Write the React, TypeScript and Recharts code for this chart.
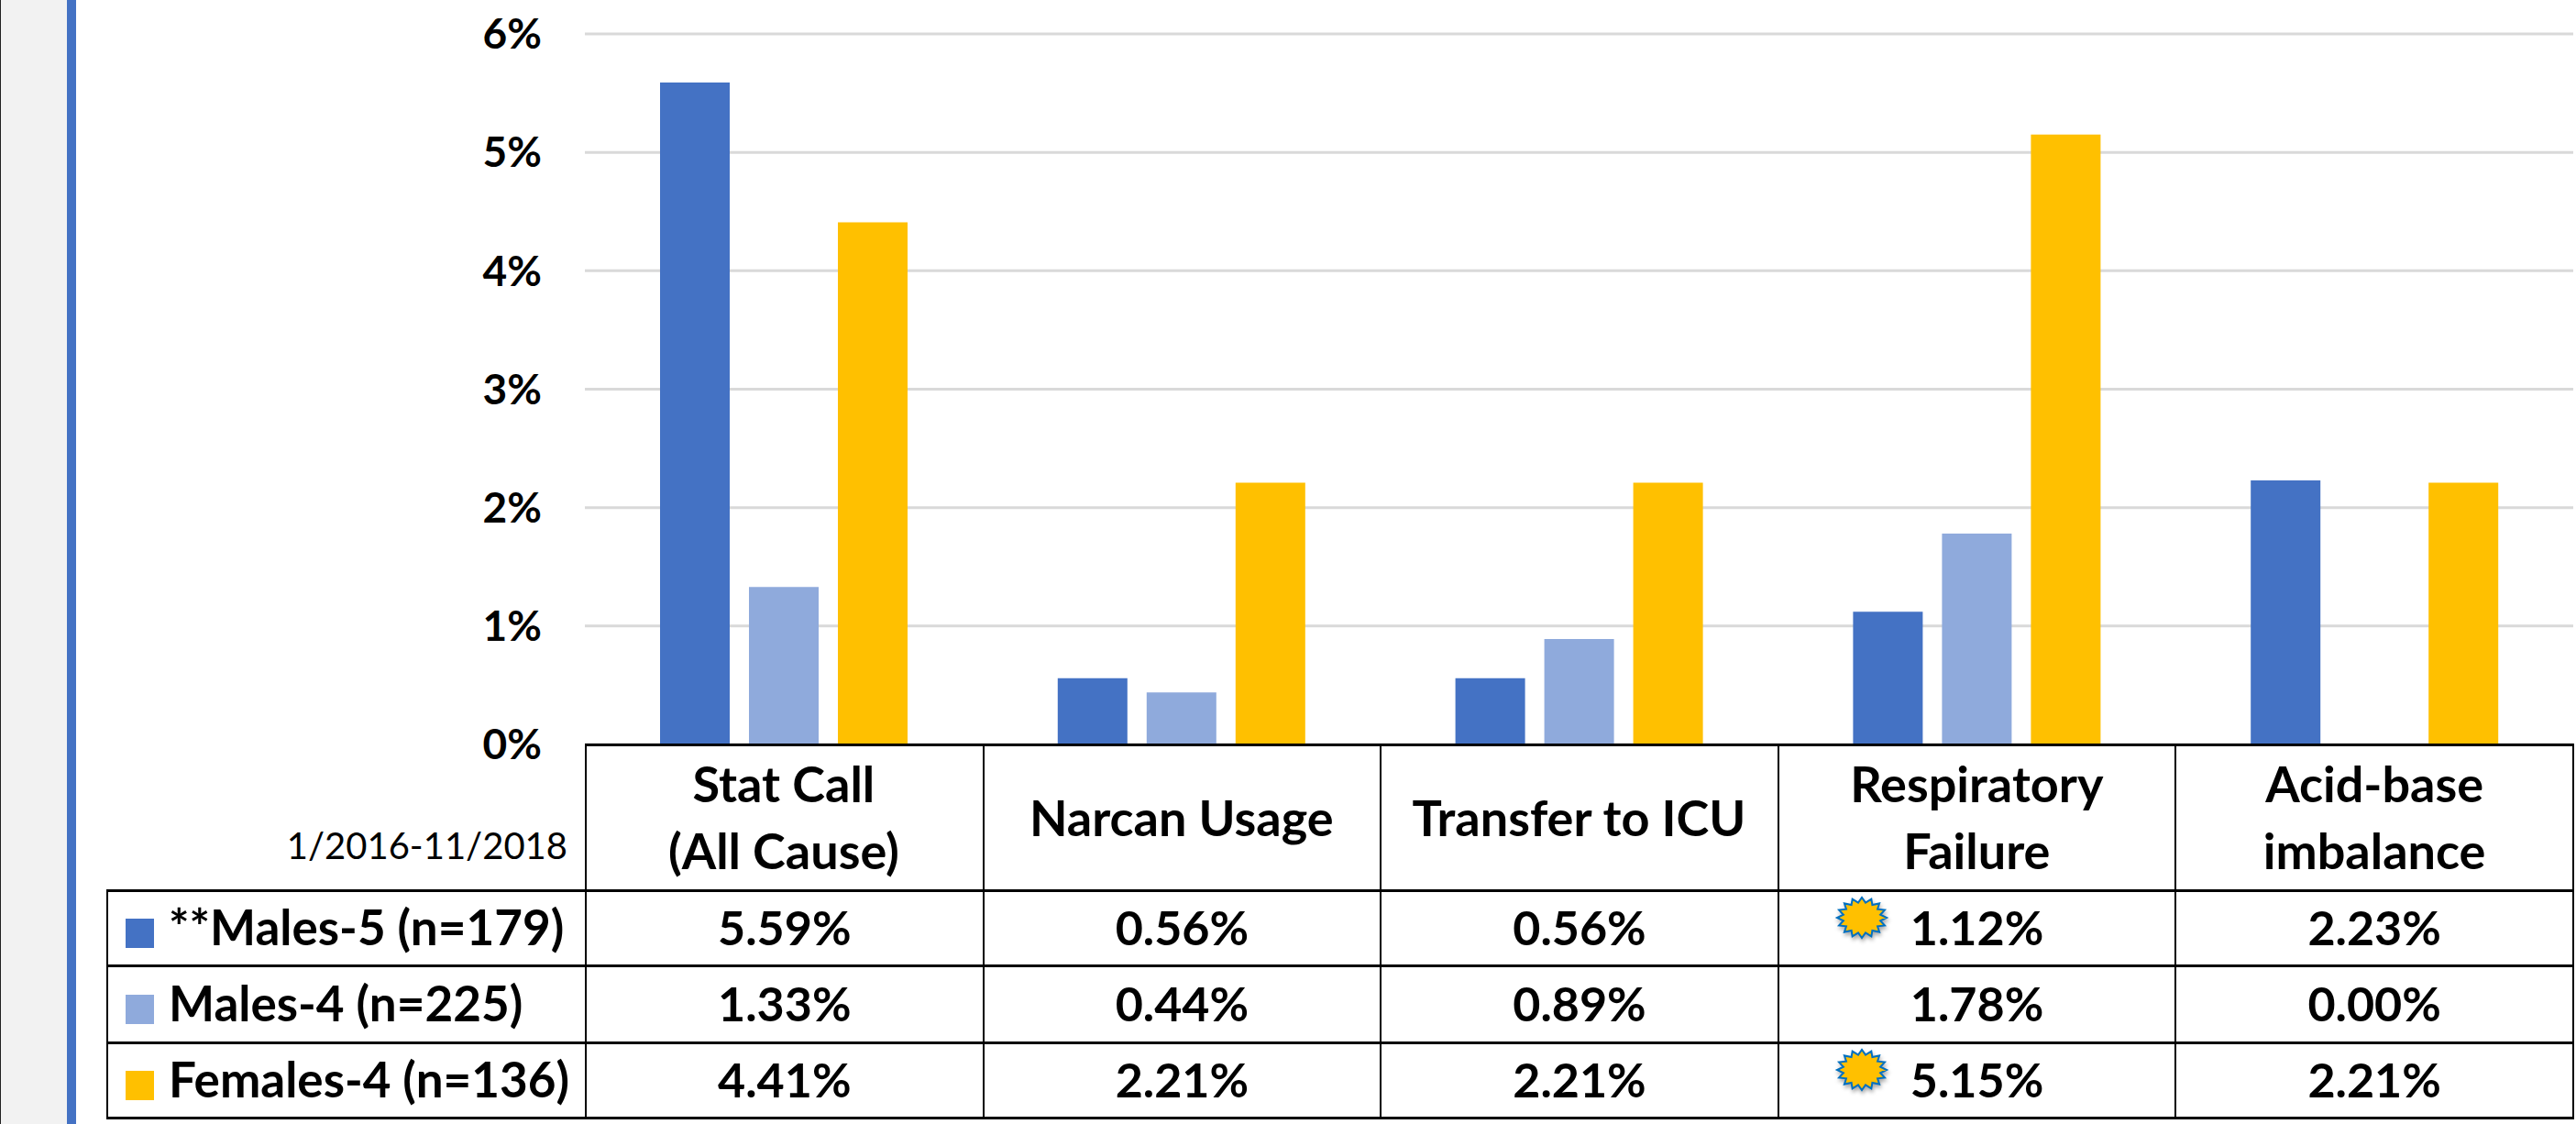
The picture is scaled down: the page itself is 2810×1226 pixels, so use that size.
import { Bar, BarChart, CartesianGrid, XAxis, YAxis } from "recharts";

const categories = ["Stat Call\n(All Cause)", "Narcan Usage", "Transfer to ICU", "Respiratory\nFailure", "Acid-base\nimbalance"];
const males5 = [5.59, 0.56, 0.56, 1.12, 2.23];
const males4 = [1.33, 0.44, 0.89, 1.78, 0];
const females4 = [4.41, 2.21, 2.21, 5.15, 2.21];
const yTicks = [0, 1, 2, 3, 4, 5, 6];

const series = [
  { key: "males5", label: "**Males-5 (n=179)", color: "#4472C4", values: males5, rowHeight: 82, burst: 3 },
  { key: "males4", label: "Males-4 (n=225)", color: "#8FAADC", values: males4, rowHeight: 84, burst: -1 },
  { key: "females4", label: "Females-4 (n=136)", color: "#FFC000", values: females4, rowHeight: 82, burst: 3 },
];

const chartData = categories.map((name, i) => ({
  name,
  males5: males5[i],
  males4: males4[i],
  females4: females4[i],
}));

const FONT = "Lato, 'Noto Sans', sans-serif";
const hLine = "3px solid #000";
const vLine = "2px solid #000";

const CategoryTick = ({ x, payload }: any) => {
  const lines = String(payload.value).split("\n");
  const ys = lines.length === 2 ? [854, 927] : [891];
  return (
    <g>
      {lines.map((line, i) => (
        <text key={line} x={x} y={ys[i]} textAnchor="middle" dominantBaseline="central" fontFamily={FONT} fontWeight={700} fontSize={54} fill="#000">
          {line}
        </text>
      ))}
    </g>
  );
};

const Burst = () => {
  const pts: string[] = [];
  for (let i = 0; i < 32; i++) {
    const a = (i * Math.PI) / 16;
    const r = i % 2 === 0 ? 1 : 0.76;
    pts.push(`${30 + 27 * r * Math.sin(a)},${26 + 22 * r * Math.cos(a)}`);
  }
  return (
    <svg width={60} height={56} style={{ position: "absolute", left: 60, top: 2, filter: "drop-shadow(1px 3px 2px rgba(0,0,0,0.35))" }}>
      <polygon points={pts.join(" ")} fill="#FFC000" stroke="#0070C0" strokeWidth={2} />
    </svg>
  );
};

const cell: React.CSSProperties = {
  padding: 0,
  textAlign: "center",
  position: "relative",
  fontFamily: FONT,
  fontWeight: 700,
  fontSize: 52,
  lineHeight: "60px",
  color: "#000",
  borderTop: hLine,
  borderBottom: hLine,
  borderLeft: vLine,
  borderRight: vLine,
};

export default function App() {
  return (
    <div style={{ position: "absolute", left: 0, top: 0, width: 2810, height: 1226, background: "#fff", overflow: "hidden" }}>
      <div style={{ position: "absolute", left: 0, top: 0, width: 73, height: 1226, background: "#F2F2F2", borderLeft: "1px solid #222", boxSizing: "border-box" }} />
      <div style={{ position: "absolute", left: 73, top: 0, width: 10, height: 1226, background: "#4472C4" }} />

      <div style={{ position: "absolute", left: 0, top: 0 }}>
        <BarChart
          width={2807}
          height={1226}
          data={chartData}
          margin={{ top: 37, right: 0, bottom: 0, left: 0 }}
          barCategoryGap={82}
          barGap={21}
        >
          <CartesianGrid horizontal vertical={false} stroke="#D9D9D9" strokeWidth={3} />
          <XAxis dataKey="name" height={414} interval={0} axisLine={false} tickLine={false} tick={<CategoryTick />} />
          <YAxis
            width={638}
            domain={[0, 6]}
            ticks={yTicks}
            axisLine={false}
            tickLine={false}
            tickMargin={41}
            tickFormatter={(v: number) => `${v}%`}
            tick={{ fontFamily: FONT, fontWeight: 700, fontSize: 46, fill: "#000" }}
          />
          {series.map((s) => (
            <Bar key={s.key} dataKey={s.key} fill={s.color} isAnimationActive={false} />
          ))}
        </BarChart>
      </div>

      <div style={{ position: "absolute", right: 2191, top: 892, fontFamily: FONT, fontSize: 40, color: "#000", lineHeight: "60px" }}>1/2016-11/2018</div>

      <table style={{ position: "absolute", left: 116, top: 811, borderCollapse: "collapse", tableLayout: "fixed", width: 2690 }}>
        <colgroup>
          <col style={{ width: 522 }} />
          {categories.map((c) => (
            <col key={c} style={{ width: 433.6 }} />
          ))}
        </colgroup>
        <tbody>
          <tr style={{ height: 159 }}>
            <td style={{ border: "none", borderRight: vLine, borderBottom: hLine, padding: 0 }} />
            {categories.map((c) => (
              <td key={c} style={{ ...cell }} />
            ))}
          </tr>
          {series.map((s) => (
            <tr key={s.key} style={{ height: s.rowHeight }}>
              <td style={{ ...cell, fontSize: 53, paddingBottom: 3, textAlign: "left", whiteSpace: "nowrap", overflow: "hidden" }}>
                <span style={{ display: "inline-block", width: 31, height: 32, background: s.color, marginLeft: 19, marginRight: 16, verticalAlign: "-3px" }} />
                {s.label}
              </td>
              {s.values.map((v, i) => (
                <td key={categories[i]} style={{ ...cell, paddingBottom: 3 }}>
                  {i === s.burst && <Burst />}
                  {v.toFixed(2)}%
                </td>
              ))}
            </tr>
          ))}
        </tbody>
      </table>
    </div>
  );
}
